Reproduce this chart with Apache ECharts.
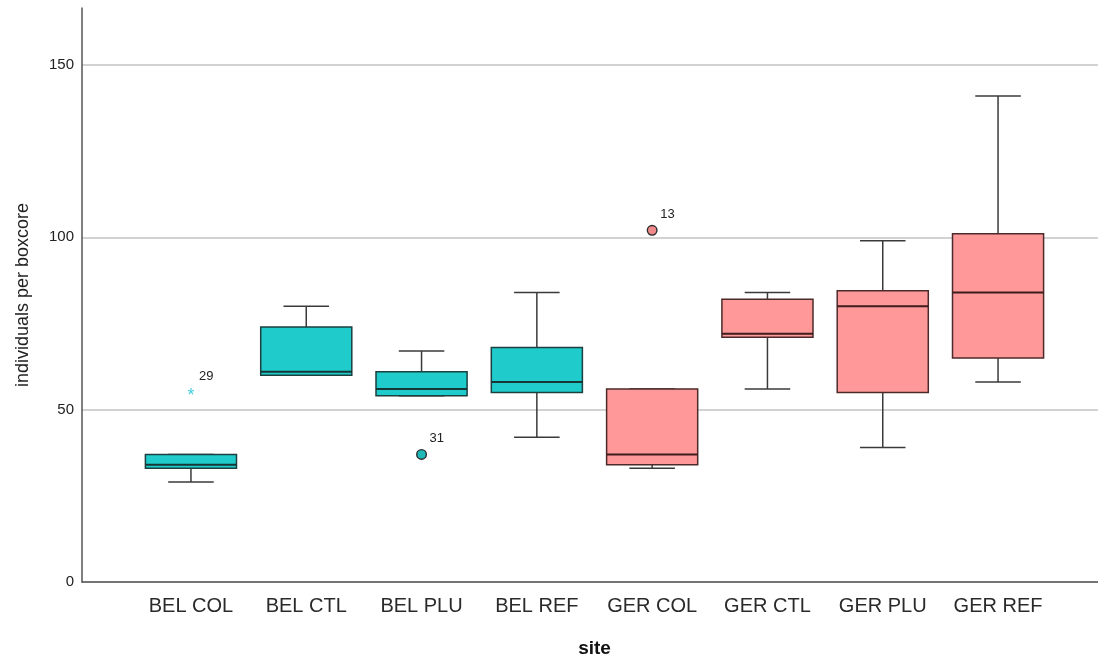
<!DOCTYPE html>
<html>
<head>
<meta charset="utf-8">
<title>individuals per boxcore by site</title>
<script src="https://cdn.jsdelivr.net/npm/echarts@6/dist/echarts.min.js"></script>
<style>
  html, body { margin: 0; padding: 0; background: #ffffff; }
  #chart { width: 1098px; height: 657px; }
</style>
</head>
<body>
<div id="chart"></div>
<script>
// Sites along the horizontal axis
const sites = ['BEL COL', 'BEL CTL', 'BEL PLU', 'BEL REF', 'GER COL', 'GER CTL', 'GER PLU', 'GER REF'];

// Five-number summaries per site (whiskers, quartiles, median)
const whiskerLow  = [29, 60, 54, 42, 33, 56, 39, 58];
const quartile1   = [33, 60, 54, 55, 34, 71, 55, 65];
const medians     = [34, 61, 56, 58, 37, 72, 80, 84];
const quartile3   = [37, 74, 61, 68, 56, 82, 84.5, 101];
const whiskerHigh = [37, 80, 67, 84, 56, 84, 99, 141];

// Outlying cases: site index, value, case number, kind ('mild' circle / 'extreme' star)
const outlierSite  = [0, 2, 4];
const outlierValue = [55, 37, 102];
const outlierCase  = ['29', '31', '13'];
const outlierKind  = ['extreme', 'mild', 'mild'];

// Value axis ticks
const yMin = 0;
const yMax = 166.5;
const yStep = 50;

const FONT = "'Liberation Sans', Arial, sans-serif";
const palette = {
  BEL: { fill: '#1fcbcb', edge: '#1c3f3f', median: '#163636', dot: '#1db8b8', star: '#45cfdf' },
  GER: { fill: '#ff9999', edge: '#4d2a2a', median: '#3e1c1c', dot: '#f08a8a', star: '#f08a8a' }
};
const colorsFor = (i) => palette[sites[i].slice(0, 3)];

const boxData = sites.map((s, i) => [i, whiskerLow[i], quartile1[i], medians[i], quartile3[i], whiskerHigh[i]]);
const outlierData = outlierSite.map((s, k) => [s, outlierValue[k], outlierCase[k], outlierKind[k]]);

const chart = echarts.init(document.getElementById('chart'), null, { renderer: 'canvas' });

function renderBox(params, api) {
  const i = api.value(0);
  const c = colorsFor(i);
  const pLo = api.coord([i, api.value(1)]);
  const pQ1 = api.coord([i, api.value(2)]);
  const pMd = api.coord([i, api.value(3)]);
  const pQ3 = api.coord([i, api.value(4)]);
  const pHi = api.coord([i, api.value(5)]);
  const band = api.size([1, 0])[0];
  const half = band * 0.395;
  const cap = half / 2;
  const x = pMd[0];
  const lineStyle = { stroke: '#3a3a3a', lineWidth: 1.5 };
  return {
    type: 'group',
    children: [
      { type: 'line', shape: { x1: x, y1: pLo[1], x2: x, y2: pQ1[1] }, style: lineStyle },
      { type: 'line', shape: { x1: x, y1: pQ3[1], x2: x, y2: pHi[1] }, style: lineStyle },
      { type: 'line', shape: { x1: x - cap, y1: pLo[1], x2: x + cap, y2: pLo[1] }, style: lineStyle },
      { type: 'line', shape: { x1: x - cap, y1: pHi[1], x2: x + cap, y2: pHi[1] }, style: lineStyle },
      {
        type: 'rect',
        shape: { x: x - half, y: pQ3[1], width: half * 2, height: pQ1[1] - pQ3[1] },
        style: { fill: c.fill, stroke: c.edge, lineWidth: 1.5 }
      },
      { type: 'line', shape: { x1: x - half, y1: pMd[1], x2: x + half, y2: pMd[1] }, style: { stroke: c.median, lineWidth: 2 } }
    ]
  };
}

function renderOutlier(params, api) {
  const i = api.value(0);
  const c = colorsFor(i);
  const p = api.coord([i, api.value(1)]);
  const label = outlierCase[params.dataIndex];
  const kind = outlierKind[params.dataIndex];
  const mark = kind === 'extreme'
    ? { type: 'text', x: p[0], y: p[1] + 4, style: { text: '*', fill: c.star, font: '18px ' + FONT, align: 'center', verticalAlign: 'middle' } }
    : { type: 'circle', shape: { cx: p[0], cy: p[1], r: 4.8 }, style: { fill: c.dot, stroke: '#2a2a2a', lineWidth: 1.4 } };
  return {
    type: 'group',
    children: [
      mark,
      { type: 'text', x: p[0] + 8, y: p[1] - 16, style: { text: label, fill: '#222', font: '13px ' + FONT, align: 'left', verticalAlign: 'middle' } }
    ]
  };
}

chart.setOption({
  animation: false,
  backgroundColor: '#ffffff',
  textStyle: { fontFamily: FONT },
  grid: [
    { left: 82, right: 0, top: 8, bottom: 75, outerBoundsMode: 'none' },
    { left: 133.3, right: 42.3, top: 8, bottom: 75, outerBoundsMode: 'none' }
  ],
  xAxis: [
    {
      gridIndex: 0, type: 'value', min: 0, max: 1,
      axisLine: { show: true, lineStyle: { color: '#555', width: 1.5 } },
      axisTick: { show: false }, axisLabel: { show: false }, splitLine: { show: false }
    },
    {
      gridIndex: 1, type: 'category', data: sites,
      axisLine: { show: false }, axisTick: { show: false },
      axisLabel: { interval: 0, fontSize: 20, color: '#2a2a2a', margin: 14, fontFamily: FONT },
      name: 'site', nameLocation: 'middle', nameGap: 57,
      nameTextStyle: { fontSize: 19, fontWeight: 'bold', color: '#111', fontFamily: FONT }
    }
  ],
  yAxis: [
    {
      gridIndex: 0, type: 'value', min: yMin, max: yMax, interval: yStep,
      axisLine: { show: true, lineStyle: { color: '#555', width: 1.5 } },
      axisTick: { show: false },
      axisLabel: { fontSize: 15, color: '#222', margin: 8, showMaxLabel: false, fontFamily: FONT },
      splitLine: { show: true, showMaxLine: false, lineStyle: { color: '#d2d2d2', width: 2 } },
      name: 'individuals per boxcore', nameLocation: 'middle', nameGap: 50,
      nameTextStyle: { fontSize: 18, color: '#222', fontFamily: FONT }
    },
    {
      gridIndex: 1, type: 'value', min: yMin, max: yMax, interval: yStep, show: false
    }
  ],
  series: [
    {
      type: 'custom', xAxisIndex: 1, yAxisIndex: 1,
      renderItem: renderBox,
      encode: { x: 0, y: [1, 2, 3, 4, 5] },
      data: boxData, z: 3
    },
    {
      type: 'custom', xAxisIndex: 1, yAxisIndex: 1,
      renderItem: renderOutlier,
      encode: { x: 0, y: 1 },
      data: outlierData, z: 4
    }
  ]
});
</script>
</body>
</html>
